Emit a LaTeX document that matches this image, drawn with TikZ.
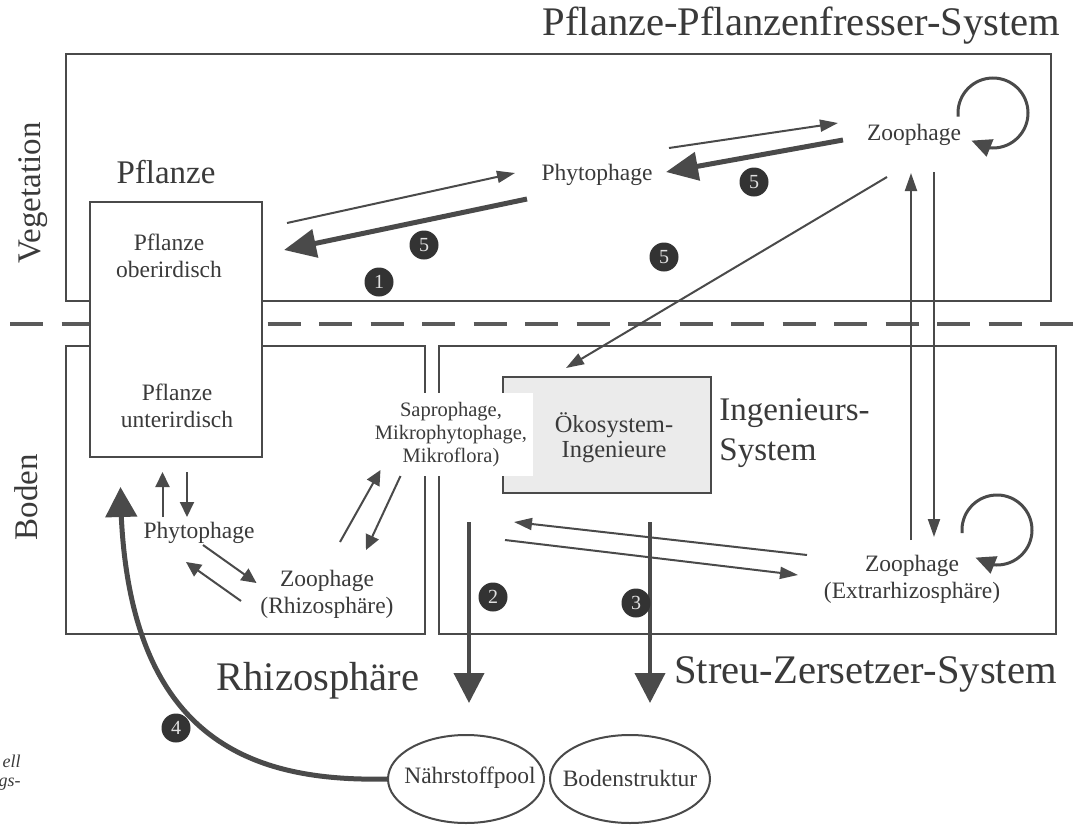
\documentclass[tikz,border=0pt]{standalone}
\usepackage{fontspec}
\setmainfont{Liberation Serif}
\usetikzlibrary{arrows.meta,bending,shapes.geometric}
\definecolor{ink}{HTML}{3A3A3A}
\definecolor{edge}{HTML}{4A4A4A}
\definecolor{dashgray}{HTML}{5A5A5A}
\definecolor{engfill}{HTML}{EBEBEB}
\definecolor{badgefill}{HTML}{333333}
\begin{document}
\begin{tikzpicture}[x=0.5pt,y=-0.5pt,
  frame/.style={draw=edge,line width=1pt},
  lbl/.style={text=ink,inner sep=0pt,align=center,font=\fontsize{11.75}{13.5}\selectfont},
  heading/.style={text=ink,inner sep=0pt,font=\fontsize{16.5}{20}\selectfont},
  bigtitle/.style={text=ink,inner sep=0pt,font=\fontsize{20.3}{24}\selectfont},
  sapro/.style={fill=white,text=ink,align=center,inner xsep=3pt,inner ysep=4.5pt,font=\fontsize{10.25}{11.5}\selectfont},
  pool/.style={ellipse,draw=edge,line width=1pt,inner sep=0pt,minimum height=44pt},
  badge/.style={circle,fill=badgefill,text=white!88!black,minimum size=14.5pt,inner sep=0pt,font=\fontsize{10}{10}\selectfont},
  flow/.style={draw=edge,line width=1pt,-{Triangle[length=9pt,width=6pt]}},
  smallflow/.style={draw=edge,line width=1pt,-{Triangle[length=7.5pt,width=7pt]}},
  heavyflow/.style={draw=edge,line width=2.5pt,-{Triangle[length=16pt,width=14pt]}},
  dropflow/.style={draw=edge,line width=2pt,-{Triangle[length=15pt,width=15pt]}},
  returnflow/.style={draw=edge,line width=2.5pt,-{Triangle[length=15pt,width=15.5pt]}},
  cycleflow/.style={draw=edge,line width=1.5pt,-{Triangle[length=10pt,width=9pt,flex]}}]

\useasboundingbox[fill=white] (0,0) rectangle (1083,825);

% system frames
\draw[frame] (66,54) rectangle (1051,301);
\draw[frame] (66,346) rectangle (425,634);
\draw[frame] (439,346) rectangle (1056,634);

% soil surface
\draw[dashgray,line width=1.7pt,dash pattern=on 16.5pt off 9.25pt] (10,324) -- (1073,324);

% plant compartment
\node[frame,fill=white,minimum width=86pt,minimum height=127.5pt,inner sep=0pt] (plant) at (176,329.5) {};
\node[lbl] (shoot) at (169,256) {Pflanze\\oberirdisch};
\node[lbl] (root) at (177,406) {Pflanze\\unterirdisch};
\node[heading,anchor=base] (plantlbl) at (166,183) {Pflanze};

% engineers compartment
\node[frame,fill=engfill,minimum width=104pt,minimum height=58pt,inner sep=0pt] (eng) at (607,435) {};
\node[lbl,font=\fontsize{12.25}{12.5}\selectfont] (engtext) at (614,438) {Ökosystem-\\Ingenieure};
\node[sapro] (decomp) at (451,434.5) {Saprophage,\\Mikrophytophage,\\Mikroflora)};

% feeding groups
\node[lbl] (phyA) at (597,175) {Phytophage};
\node[lbl] (zooA) at (914,135) {Zoophage};
\node[lbl] (phyB) at (199,533) {Phytophage};
\node[lbl] (zooB) at (327,594) {Zoophage\\(Rhizosphäre)};
\node[lbl] (zooC) at (912,579) {Zoophage\\(Extrarhizosphäre)};

% headings
\node[heading,anchor=west,align=left] (ingsys) at (719,433) {Ingenieurs-\\System};
\node[heading,rotate=90] (veg) at (33,193) {Vegetation};
\node[heading,rotate=90] (soil) at (26,497) {Boden};
\node[bigtitle,anchor=base] (ppsys) at (801.5,35) {Pflanze-Pflanzenfresser-System};
\node[bigtitle,anchor=base] (rhizo) at (318,690) {Rhizosphäre};
\node[bigtitle,anchor=base] (szsys) at (865.5,683) {Streu-Zersetzer-System};

% caption remnants at the left margin
\node[text=ink,inner sep=0pt,anchor=base east,font=\fontsize{9}{9}\selectfont\itshape] (capA) at (21,767) {ell};
\node[text=ink,inner sep=0pt,anchor=base east,font=\fontsize{9}{9}\selectfont\itshape] (capB) at (21,786) {gs-};

% pools
\node[pool,minimum width=78pt] (naehr) at (466,779) {};
\node[lbl] (naehrtext) at (470,778) {Nährstoffpool};
\node[pool,minimum width=80pt] (bstruct) at (630,779) {};
\node[lbl] (bstructtext) at (630,778) {Bodenstruktur};

% vegetation links
\coordinate (a1s) at (287,223); \coordinate (a1e) at (515,173);
\draw[flow] (a1s) -- (a1e);
\coordinate (a2s) at (527,199); \coordinate (a2e) at (284,250);
\draw[heavyflow] (a2s) -- (a2e);
\coordinate (a3s) at (669,148); \coordinate (a3e) at (838,123);
\draw[flow] (a3s) -- (a3e);
\coordinate (a4s) at (843,140); \coordinate (a4e) at (666,172);
\draw[heavyflow] (a4s) -- (a4e);
\coordinate (a5s) at (887,177); \coordinate (a5e) at (566,368);
\draw[flow] (a5s) -- (a5e);

% predator exchange across the soil surface
\coordinate (v1s) at (911,540); \coordinate (v1e) at (911,173);
\draw[flow] (v1s) -- (v1e);
\coordinate (v2s) at (934,172); \coordinate (v2e) at (934,537);
\draw[flow] (v2s) -- (v2e);

% intraguild loops
\coordinate (loopA) at (993,113);
\draw[cycleflow] (loopA) ++(174:35) arc[start angle=174,end angle=488,radius=35];
\coordinate (loopB) at (997,530);
\draw[cycleflow] (loopB) ++(175:35) arc[start angle=175,end angle=488,radius=35];

% rhizosphere links
\coordinate (r1s) at (162.5,517); \coordinate (r1e) at (162.5,472);
\draw[smallflow] (r1s) -- (r1e);
\coordinate (r2s) at (187,472); \coordinate (r2e) at (187,517);
\draw[smallflow] (r2s) -- (r2e);
\coordinate (r3s) at (203,545); \coordinate (r3e) at (256.5,583);
\draw[smallflow] (r3s) -- (r3e);
\coordinate (r4s) at (241,601); \coordinate (r4e) at (186,562);
\draw[smallflow] (r4s) -- (r4e);
\coordinate (r5s) at (340,542); \coordinate (r5e) at (380.5,470);
\draw[smallflow] (r5s) -- (r5e);
\coordinate (r6s) at (400.5,476); \coordinate (r6e) at (366,550);
\draw[smallflow] (r6s) -- (r6e);

% litter system links
\coordinate (l1s) at (807,555); \coordinate (l1e) at (514,522);
\draw[flow] (l1s) -- (l1e);
\coordinate (l2s) at (505,540); \coordinate (l2e) at (798,575);
\draw[flow] (l2s) -- (l2e);

% outputs to the pools
\coordinate (d2s) at (469,522); \coordinate (d2e) at (469,703);
\draw[dropflow] (d2s) -- (d2e);
\coordinate (d3s) at (650,522); \coordinate (d3e) at (650,703);
\draw[dropflow] (d3s) -- (d3e);

% nutrient return to the roots
\coordinate (rootin) at (120.5,487);
\draw[returnflow] (naehr.west) .. controls (250,782) and (122,740) .. (rootin);

% pathway numbers
\node[badge] (n1) at (379,282) {1};
\node[badge] (n5a) at (424,245) {5};
\node[badge] (n5b) at (754,182) {5};
\node[badge] (n5c) at (664,257) {5};
\node[badge] (n2) at (493,597) {2};
\node[badge] (n3) at (636,603) {3};
\node[badge] (n4) at (176,728) {4};
\end{tikzpicture}
\end{document}
